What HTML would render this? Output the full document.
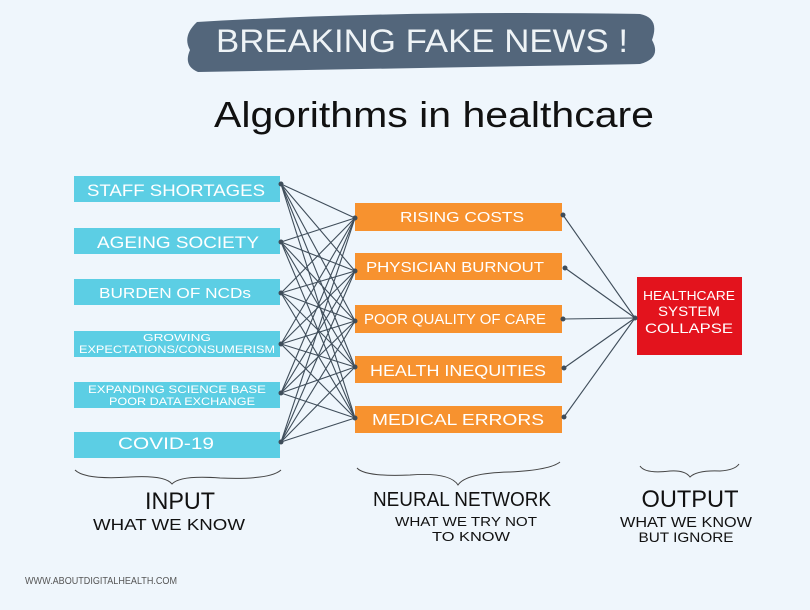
<!DOCTYPE html>
<html><head><meta charset="utf-8"><style>
html,body{margin:0;padding:0;background:#eff6fc;}
svg{display:block}
text{font-family:"Liberation Sans Narrow","Liberation Sans",sans-serif;}
</style></head><body>
<svg width="810" height="610" viewBox="0 0 810 610" xmlns="http://www.w3.org/2000/svg">
<rect width="810" height="610" fill="#eff6fc"/>
<path d="M197 22 Q400 10 640 14 Q660 18 652 40 Q662 58 640 64 Q420 68 198 72 Q183 66 190 50 Q182 36 197 22 Z" fill="#53667b"/>
<text x="422" y="52" text-anchor="middle" font-size="32" fill="#eef3f6" textLength="412" lengthAdjust="spacingAndGlyphs">BREAKING FAKE NEWS !</text>
<text x="434" y="127" text-anchor="middle" font-size="36" fill="#111" textLength="440" lengthAdjust="spacingAndGlyphs">Algorithms in healthcare</text>
<g stroke="#3f4d5a" stroke-width="1.1">
<g id="L">
<line x1="281" y1="184" x2="355" y2="218"/><line x1="281" y1="184" x2="355" y2="271"/><line x1="281" y1="184" x2="355" y2="321"/><line x1="281" y1="184" x2="355" y2="367"/><line x1="281" y1="184" x2="355" y2="418"/>
<line x1="281" y1="242" x2="355" y2="218"/><line x1="281" y1="242" x2="355" y2="271"/><line x1="281" y1="242" x2="355" y2="321"/><line x1="281" y1="242" x2="355" y2="367"/><line x1="281" y1="242" x2="355" y2="418"/>
<line x1="281" y1="293" x2="355" y2="218"/><line x1="281" y1="293" x2="355" y2="271"/><line x1="281" y1="293" x2="355" y2="321"/><line x1="281" y1="293" x2="355" y2="367"/><line x1="281" y1="293" x2="355" y2="418"/>
<line x1="281" y1="344" x2="355" y2="218"/><line x1="281" y1="344" x2="355" y2="271"/><line x1="281" y1="344" x2="355" y2="321"/><line x1="281" y1="344" x2="355" y2="367"/><line x1="281" y1="344" x2="355" y2="418"/>
<line x1="281" y1="393" x2="355" y2="218"/><line x1="281" y1="393" x2="355" y2="271"/><line x1="281" y1="393" x2="355" y2="321"/><line x1="281" y1="393" x2="355" y2="367"/><line x1="281" y1="393" x2="355" y2="418"/>
<line x1="281" y1="442" x2="355" y2="218"/><line x1="281" y1="442" x2="355" y2="271"/><line x1="281" y1="442" x2="355" y2="321"/><line x1="281" y1="442" x2="355" y2="367"/><line x1="281" y1="442" x2="355" y2="418"/>
</g>
<line x1="563" y1="215" x2="635" y2="318"/><line x1="565" y1="268" x2="635" y2="318"/><line x1="563" y1="319" x2="635" y2="318"/><line x1="564" y1="368" x2="635" y2="318"/><line x1="564" y1="417" x2="635" y2="318"/>
</g>
<g fill="#5ccee4">
<rect x="74" y="176" width="206" height="26"/><rect x="74" y="228" width="206" height="26"/><rect x="74" y="279" width="206" height="26"/><rect x="74" y="331" width="206" height="26"/><rect x="74" y="382" width="206" height="26"/><rect x="74" y="432" width="206" height="26"/>
</g>
<g fill="#f7922f">
<rect x="355" y="203" width="207" height="28"/><rect x="355" y="253" width="207" height="27"/><rect x="355" y="305" width="207" height="28"/><rect x="355" y="356" width="207" height="27"/><rect x="355" y="406" width="207" height="27"/>
</g>
<rect x="637" y="277" width="105" height="78" fill="#e3131d"/>
<g fill="#3f4d5a">
<circle cx="281" cy="184" r="2.5"/><circle cx="281" cy="242" r="2.5"/><circle cx="281" cy="293" r="2.5"/><circle cx="281" cy="344" r="2.5"/><circle cx="281" cy="393" r="2.5"/><circle cx="281" cy="442" r="2.5"/>
<circle cx="355" cy="218" r="2.5"/><circle cx="355" cy="271" r="2.5"/><circle cx="355" cy="321" r="2.5"/><circle cx="355" cy="367" r="2.5"/><circle cx="355" cy="418" r="2.5"/>
<circle cx="563" cy="215" r="2.5"/><circle cx="565" cy="268" r="2.5"/><circle cx="563" cy="319" r="2.5"/><circle cx="564" cy="368" r="2.5"/><circle cx="564" cy="417" r="2.5"/><circle cx="635" cy="318" r="2.5"/>
</g>
<g fill="#fff" text-anchor="middle">
<text x="176" y="196" font-size="17" textLength="178" lengthAdjust="spacingAndGlyphs">STAFF SHORTAGES</text>
<text x="178" y="248" font-size="17" textLength="162" lengthAdjust="spacingAndGlyphs">AGEING SOCIETY</text>
<text x="175" y="298" font-size="15" textLength="152" lengthAdjust="spacingAndGlyphs">BURDEN OF NCDs</text>
<text x="177" y="341" font-size="10" textLength="68" lengthAdjust="spacingAndGlyphs">GROWING</text>
<text x="177" y="353" font-size="11" textLength="196" lengthAdjust="spacingAndGlyphs">EXPECTATIONS/CONSUMERISM</text>
<text x="177" y="393" font-size="11" textLength="178" lengthAdjust="spacingAndGlyphs">EXPANDING SCIENCE BASE</text>
<text x="182" y="405" font-size="11" textLength="146" lengthAdjust="spacingAndGlyphs">POOR DATA EXCHANGE</text>
<text x="166" y="449" font-size="17" textLength="96" lengthAdjust="spacingAndGlyphs">COVID-19</text>
<text x="462" y="222" font-size="15" textLength="124" lengthAdjust="spacingAndGlyphs">RISING COSTS</text>
<text x="455" y="272" font-size="15" textLength="178" lengthAdjust="spacingAndGlyphs">PHYSICIAN BURNOUT</text>
<text x="455" y="324" font-size="15" textLength="182" lengthAdjust="spacingAndGlyphs">POOR QUALITY OF CARE</text>
<text x="458" y="376" font-size="16" textLength="176" lengthAdjust="spacingAndGlyphs">HEALTH INEQUITIES</text>
<text x="458" y="425" font-size="16" textLength="172" lengthAdjust="spacingAndGlyphs">MEDICAL ERRORS</text>
<text x="689" y="300" font-size="13" textLength="92" lengthAdjust="spacingAndGlyphs">HEALTHCARE</text>
<text x="689" y="316" font-size="14" textLength="62" lengthAdjust="spacingAndGlyphs">SYSTEM</text>
<text x="689" y="333" font-size="14" textLength="88" lengthAdjust="spacingAndGlyphs">COLLAPSE</text>
</g>
<g fill="none" stroke="#444" stroke-width="1">
<path d="M75 470 Q85 480 130 477 Q165 475 172 484 Q180 475 220 478 Q270 480 281 470"/>
<path d="M357 468 Q365 477 410 475 Q450 472 458 485 Q466 473 510 472 Q550 470 560 462"/>
<path d="M640 466 Q645 474 670 471 Q685 470 690 477 Q697 470 720 471 Q735 470 739 464"/>
</g>
<g fill="#111" text-anchor="middle">
<text x="180" y="509" font-size="24" textLength="70" lengthAdjust="spacingAndGlyphs">INPUT</text>
<text x="169" y="530" font-size="16" textLength="152" lengthAdjust="spacingAndGlyphs">WHAT WE KNOW</text>
<text x="462" y="506" font-size="20" textLength="178" lengthAdjust="spacingAndGlyphs">NEURAL NETWORK</text>
<text x="466" y="526" font-size="13" textLength="142" lengthAdjust="spacingAndGlyphs">WHAT WE TRY NOT</text>
<text x="471" y="541" font-size="13" textLength="78" lengthAdjust="spacingAndGlyphs">TO KNOW</text>
<text x="690" y="507" font-size="24" textLength="97" lengthAdjust="spacingAndGlyphs">OUTPUT</text>
<text x="686" y="527" font-size="15" textLength="132" lengthAdjust="spacingAndGlyphs">WHAT WE KNOW</text>
<text x="686" y="542" font-size="14" textLength="95" lengthAdjust="spacingAndGlyphs">BUT IGNORE</text>
<text x="101" y="584" font-size="10" fill="#555" textLength="152" lengthAdjust="spacingAndGlyphs">WWW.ABOUTDIGITALHEALTH.COM</text>
</g>
</svg>
</body></html>
